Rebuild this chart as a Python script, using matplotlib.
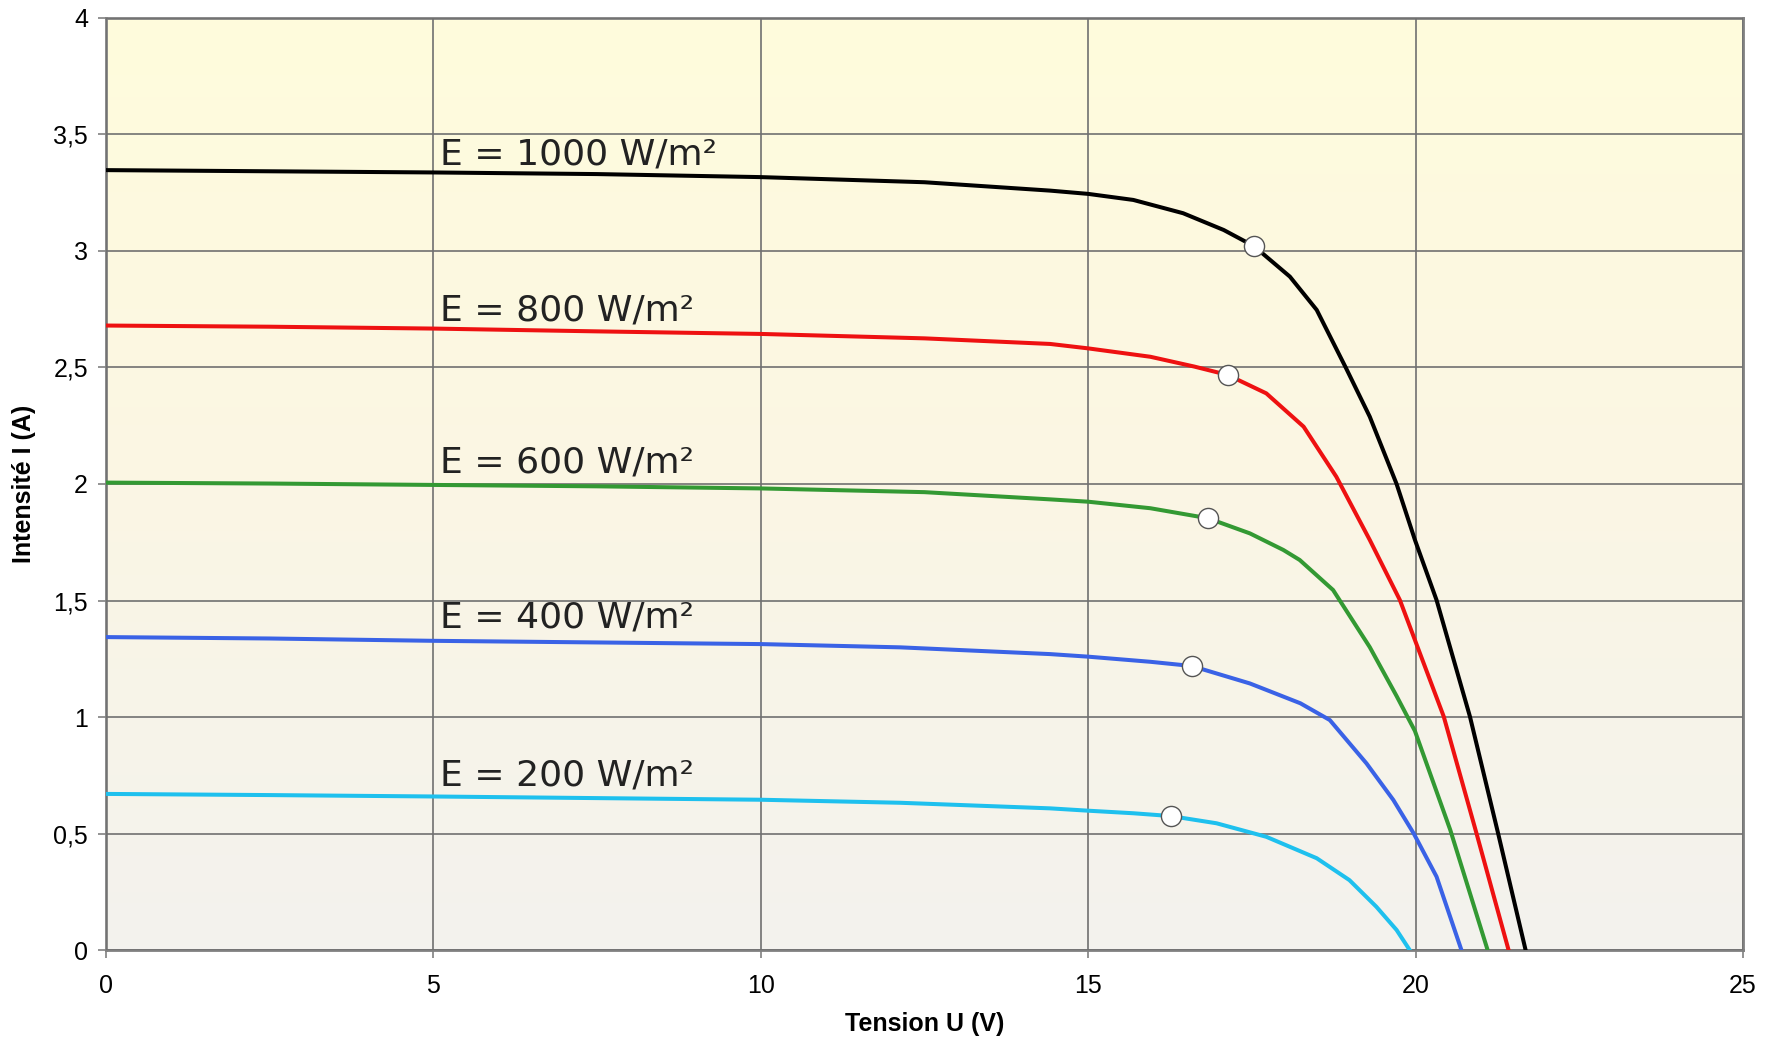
import numpy as np
import matplotlib
matplotlib.use("Agg")
import matplotlib.pyplot as plt
from matplotlib.colors import LinearSegmentedColormap

# I-V curves, one per irradiance
labels = ["E = 1000 W/m²", "E = 800 W/m²", "E = 600 W/m²", "E = 400 W/m²", "E = 200 W/m²"]
colors = ["#000000", "#ee1111", "#339933", "#3a62e6", "#1ec0ee"]

u_1000 = [0, 2.5, 5, 7.5, 10, 12.5, 14.42, 15.0, 15.69, 16.45, 17.07, 17.53, 18.08, 18.49, 18.94, 19.30,
          19.71, 19.99, 20.32, 20.83, 21.26, 21.68]
i_1000 = [3.347, 3.342, 3.337, 3.330, 3.317, 3.295, 3.259, 3.245, 3.219, 3.162, 3.090, 3.021, 2.890, 2.747, 2.496, 2.289,
          2.000, 1.760, 1.502, 1.002, 0.501, 0]

u_800 = [0, 2.5, 5, 7.5, 10, 12.5, 14.42, 15.0, 15.95, 16.62, 17.13, 17.72, 18.29, 18.79, 19.30,
         19.76, 20.43, 20.93, 21.42]
i_800 = [2.680, 2.675, 2.667, 2.655, 2.644, 2.625, 2.601, 2.582, 2.546, 2.504, 2.468, 2.389, 2.246, 2.031, 1.760,
         1.502, 1.002, 0.501, 0]

u_600 = [0, 2.5, 5, 7.5, 10, 12.5, 14.42, 15.0, 15.95, 16.83, 17.47, 17.98, 18.23, 18.74, 19.30,
         19.71, 19.99, 20.53, 21.10]
i_600 = [2.006, 2.002, 1.996, 1.990, 1.981, 1.965, 1.934, 1.924, 1.896, 1.853, 1.788, 1.717, 1.674, 1.545, 1.300,
         1.090, 0.940, 0.515, 0]

u_400 = [0, 2.5, 5, 7.5, 10, 12.13, 14.42, 15.0, 15.95, 16.58, 17.47, 18.24, 18.69, 19.25, 19.66, 19.97,
         20.32, 20.70]
i_400 = [1.343, 1.337, 1.327, 1.320, 1.313, 1.299, 1.270, 1.259, 1.237, 1.219, 1.144, 1.059, 0.987, 0.801, 0.644, 0.501,
         0.315, 0]

u_200 = [0, 2.5, 5, 7.5, 10, 12.13, 14.42, 15.0, 15.69, 16.26, 16.96, 17.72, 18.49, 18.99, 19.40, 19.71, 19.91]
i_200 = [0.670, 0.665, 0.659, 0.652, 0.645, 0.632, 0.608, 0.598, 0.587, 0.575, 0.544, 0.486, 0.394, 0.300, 0.186, 0.086, 0]

# maximum power points
mpp_u = [17.53, 17.13, 16.83, 16.58, 16.26]
mpp_i = [3.021, 2.468, 1.853, 1.219, 0.575]

# where the labels sit (U, I at the text baseline)
label_u = [5.1, 5.1, 5.1, 5.1, 5.1]
label_i = [3.37, 2.70, 2.05, 1.385, 0.705]

curves = [(u_1000, i_1000), (u_800, i_800), (u_600, i_600), (u_400, i_400), (u_200, i_200)]

plt.rcParams['font.family'] = ['Liberation Sans', 'DejaVu Sans']

fig = plt.figure(figsize=(17.69, 10.44), dpi=100)
ax = fig.add_axes([0.0599, 0.0900, 0.9254, 0.8928])

# cream to grey gradient behind the plot
grad = LinearSegmentedColormap.from_list("bg", ["#f3f2ee", "#fbf6e4", "#fffcdc"])
ax.imshow(np.linspace(0, 1, 256).reshape(-1, 1), cmap=grad, origin="lower",
          extent=[0, 1, 0, 1], transform=ax.transAxes, aspect="auto", zorder=0)

for (u, i), c in zip(curves, colors):
    ax.plot(u, i, color=c, lw=2.9, zorder=3, solid_joinstyle="round")

ax.plot(mpp_u, mpp_i, "o", ms=14.5, mfc="white", mec="#555555", mew=1.0, zorder=4, ls="none")

for t, x, y in zip(labels, label_u, label_i):
    ax.text(x, y, t, fontsize=26, family="DejaVu Sans", color="#222222", va="baseline", ha="left", zorder=5)

ax.set_xlim(0, 25)
ax.set_ylim(0, 4)
ax.set_xticks([0, 5, 10, 15, 20, 25])
yt = np.arange(0, 4.01, 0.5)
ax.set_yticks(yt)
ax.set_yticklabels([f"{v:g}".replace(".", ",") for v in yt])
ax.grid(True, color="#707070", lw=1.2, zorder=1)
ax.set_axisbelow(False)
for s in ax.spines.values():
    s.set_color("#808080")
    s.set_linewidth(2)
    s.set_zorder(2)
ax.tick_params(axis="both", direction="out", length=6, width=1.2, color="#808080", labelsize=18)
ax.tick_params(axis="x", pad=11)
ax.tick_params(axis="y", pad=7)

ax.set_xlabel("Tension U (V)", fontsize=18, fontweight="bold", labelpad=10)
ax.set_ylabel("Intensité I (A)", fontsize=18, fontweight="bold", labelpad=12)

fig.savefig("out.png", dpi=100)
